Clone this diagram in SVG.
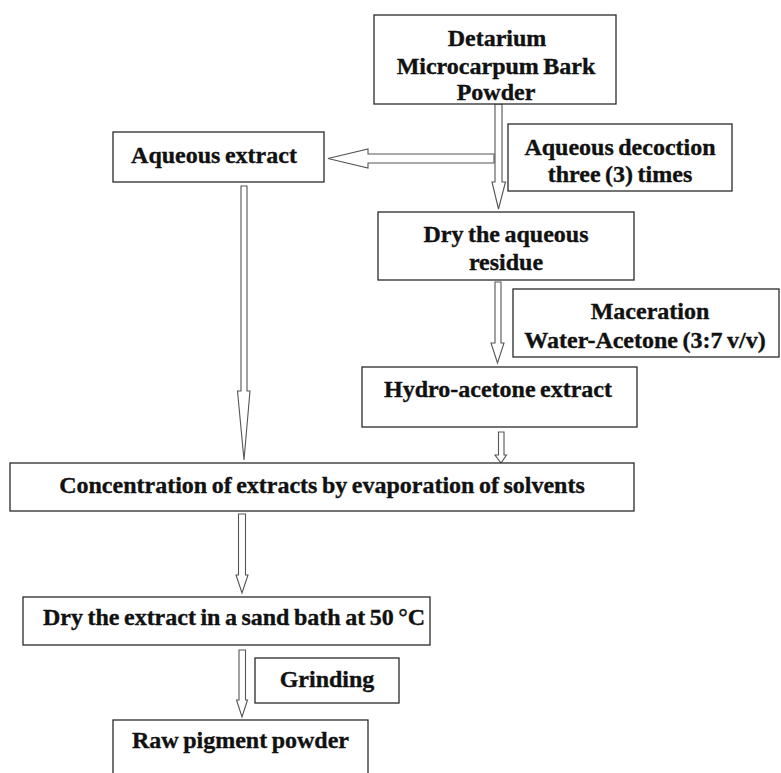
<svg xmlns="http://www.w3.org/2000/svg" width="781" height="773" viewBox="0 0 781 773">
<style>
.box{fill:#fff;stroke:#2a2a2a;stroke-width:1.3}
.arr{fill:#fff;stroke:#555;stroke-width:1.1;stroke-linejoin:miter}
text{font-family:"Liberation Serif","Times New Roman",serif;font-weight:bold;font-size:24px;fill:#111;stroke:#111;stroke-width:0.35;word-spacing:-1.5px}
.c{text-anchor:middle}
</style>
<rect width="781" height="773" fill="#fff"/>
<g id="connectors">
<polygon class="arr" points="495,104 502,104 502,182 505.5,182 498.5,209 492,182 495,182"/>
<polygon class="arr" points="494,154 494,163 368,163 368,168 328,158.5 368,149 368,154"/>
<polygon class="arr" points="495,282 501,282 501,343 504,343 497.5,363 491,343 495,343"/>
<polygon class="arr" points="241,186 247,186 247,391 250,391 244,460 237.5,391 241,391"/>
<polygon class="arr" points="498.5,432 504,432 504,455 506.5,455 501,463 495,455 498.5,455"/>
<polygon class="arr" points="238.5,514 245.5,514 245.5,575 248,575 242,593 236,575 238.5,575"/>
<polygon class="arr" points="239,650 245.5,650 245.5,700 247.5,700 242,717 236.5,700 239,700"/>
</g>
<g id="n-powder"><rect class="box" x="374" y="15" width="242" height="89"/>
<text class="c" x="497" y="45.5">Detarium</text>
<text class="c" x="496" y="74">Microcarpum Bark</text>
<text class="c" x="496" y="100">Powder</text></g>
<g id="n-decoction"><rect class="box" x="508" y="124" width="224" height="67"/>
<text class="c" x="620" y="155">Aqueous decoction</text>
<text class="c" x="620" y="182">three (3) times</text></g>
<g id="n-aqueous-extract"><rect class="box" x="113" y="132" width="211" height="50"/>
<text class="c" x="214" y="162.5">Aqueous extract</text></g>
<g id="n-dry-residue"><rect class="box" x="378" y="212" width="256" height="68"/>
<text class="c" x="506" y="241.5">Dry the aqueous</text>
<text class="c" x="506" y="270">residue</text></g>
<g id="n-maceration"><rect class="box" x="513" y="289" width="266" height="68"/>
<text class="c" x="650" y="318.5">Maceration</text>
<text class="c" x="645" y="347.5">Water-Acetone (3:7 v/v)</text></g>
<g id="n-hydro"><rect class="box" x="362" y="367" width="275" height="60"/>
<text class="c" x="498" y="396.5">Hydro-acetone extract</text></g>
<g id="n-concentration"><rect class="box" x="10" y="463" width="624" height="48"/>
<text class="c" x="322" y="492.5">Concentration of extracts by evaporation of solvents</text></g>
<g id="n-dry-extract"><rect class="box" x="23" y="597" width="407" height="48"/>
<text x="43" y="625">Dry the extract in a sand bath at 50 °C</text></g>
<g id="n-grinding"><rect class="box" x="255" y="658" width="144" height="45"/>
<text class="c" x="327" y="686.5">Grinding</text></g>
<g id="n-raw"><rect class="box" x="113" y="720" width="255" height="70"/>
<text class="c" x="240.5" y="748">Raw pigment powder</text></g>
</svg>
